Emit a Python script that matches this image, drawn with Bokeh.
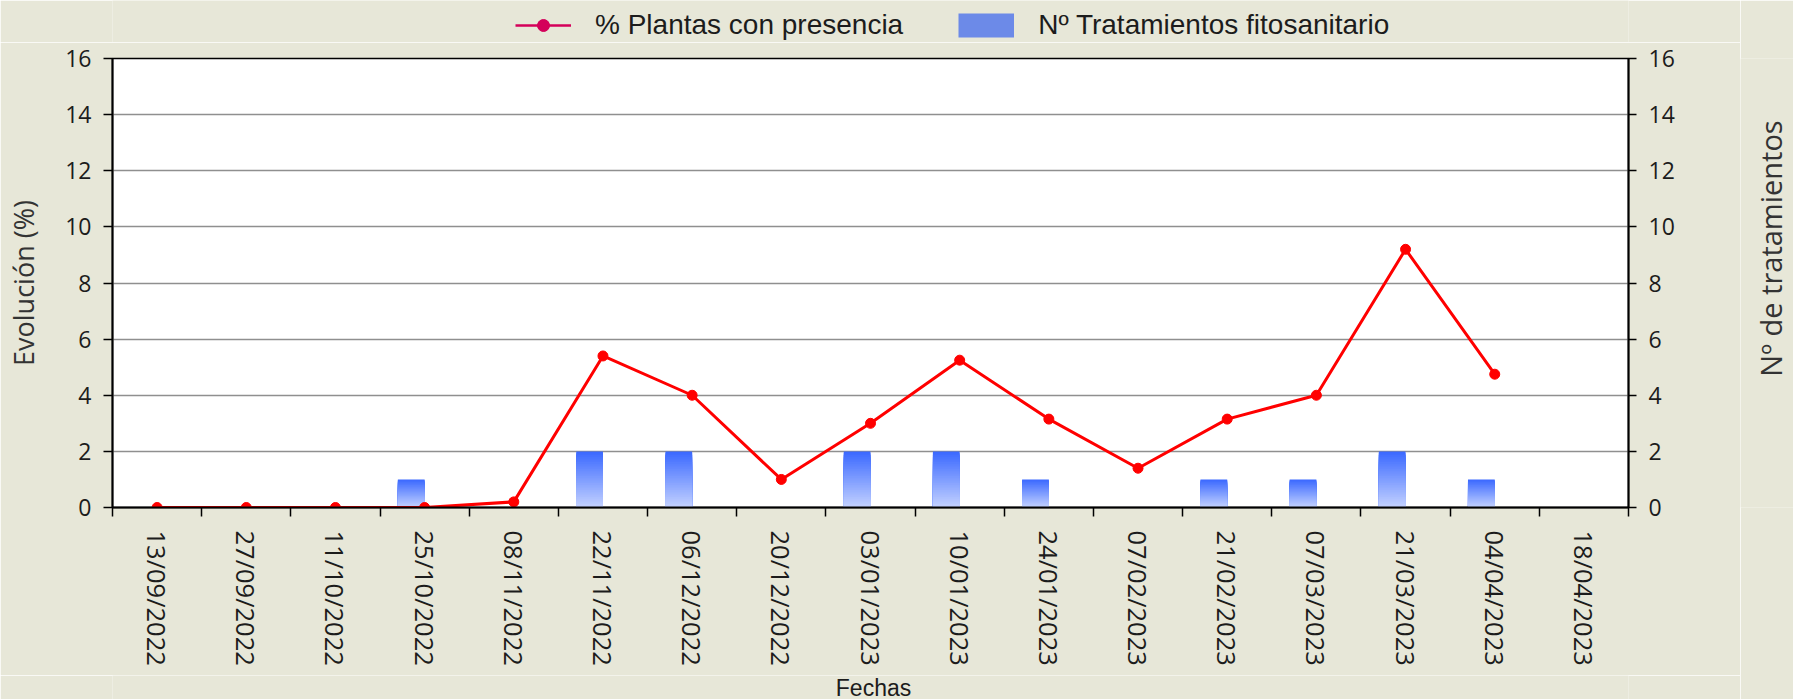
import math
from bokeh.plotting import figure
from bokeh.layouts import column, row
from bokeh.models import (Range1d, LinearAxis, FixedTicker, Legend, LegendItem, Label)
from bokeh.embed import file_html
from bokeh.resources import INLINE

# ---------------- data ----------------
fechas = ["13/09/2022", "27/09/2022", "11/10/2022", "25/10/2022", "08/11/2022",
          "22/11/2022", "06/12/2022", "20/12/2022", "03/01/2023", "10/01/2023",
          "24/01/2023", "07/02/2023", "21/02/2023", "07/03/2023", "21/03/2023",
          "04/04/2023", "18/04/2023"]
plantas_presencia = [0, 0, 0, 0, 0.2, 5.4, 4.0, 1.0, 3.0, 5.25, 3.15, 1.4,
                     3.15, 4.0, 9.2, 4.75, None]
tratamientos = [0, 0, 0, 1, 0, 2, 2, 0, 2, 2, 1, 0, 1, 1, 2, 1, 0]
y_ticks = [0, 2, 4, 6, 8, 10, 12, 14, 16]

serie_linea = "% Plantas con presencia"
serie_barras = "Nº Tratamientos fitosanitario"
titulo_y = "Evolución (%)"
titulo_y2 = "Nº de tratamientos"
titulo_x = "Fechas"

# ---------------- style ----------------
BG = "#e7e7d8"
TXT = "#1c1c1c"
TICK_FONT = "Open Sans"
W_MAIN = 1740
W_RIGHT = 53
H = 699
TOP_H = 42          # legend strip
BOT_H = 24          # x title strip
FRAME_TOP = 58
FRAME_BOTTOM = 507

n = len(fechas)
centers = [i + 0.5 for i in range(n)]


def blank(fig):
    fig.grid.visible = False
    fig.outline_line_color = None
    fig.background_fill_color = BG
    fig.border_fill_color = BG


# ---------- legend strip (top) ----------
lf = figure(width=W_MAIN, height=TOP_H, x_range=Range1d(0, 1), y_range=Range1d(0, 1),
            output_backend="svg", toolbar_location=None,
            x_axis_location=None, y_axis_location=None, min_border=0)
blank(lf)
# swatch-only renderers (their points lie outside the visible range)
leg_line = lf.line(x=[5, 6], y=[5, 5], line_color="#d4005a", line_width=2.5)
leg_dot = lf.scatter(x=[5], y=[5], size=15, fill_color="#d4005a", line_color="#d4005a")
leg_box = lf.line(x=[5, 6], y=[5, 5], line_color="#6c8ae8", line_width=24, line_cap="butt")
legend = Legend(items=[LegendItem(label=serie_linea, renderers=[leg_line, leg_dot]),
                       LegendItem(label=serie_barras, renderers=[leg_box])],
                location=(403, 1), orientation="horizontal",
                glyph_width=56, glyph_height=30, label_height=30,
                label_standoff=24, padding=0, margin=0, spacing=55,
                border_line_color=None, background_fill_alpha=0,
                label_text_font="Liberation Sans", label_text_font_size="28px",
                label_text_color=TXT)
lf.add_layout(legend)

# ---------- main chart ----------
p = figure(width=W_MAIN, height=H - TOP_H - BOT_H, x_range=Range1d(0, n),
           y_range=Range1d(0, 16), output_backend="svg", toolbar_location=None,
           min_border_left=112, min_border_right=W_MAIN - 1628,
           min_border_top=FRAME_TOP - TOP_H,
           min_border_bottom=H - BOT_H - FRAME_BOTTOM)
p.extra_y_ranges = {"trat": Range1d(0, 16)}
p.border_fill_color = BG
p.background_fill_color = "white"
p.outline_line_color = "black"
p.outline_line_width = 1.5

# gradient bars (stacked slices, drawn from tallest to shortest)
N = 32
top_rgb = (0x3a, 0x68, 0xff)
bot_rgb = (0xc4, 0xd2, 0xff)
bx, bb, bt, bc = [], [], [], []
for k in range(N - 1, -1, -1):
    t = (k + 0.5) / N
    r = round(bot_rgb[0] + (top_rgb[0] - bot_rgb[0]) * t)
    g = round(bot_rgb[1] + (top_rgb[1] - bot_rgb[1]) * t)
    b = round(bot_rgb[2] + (top_rgb[2] - bot_rgb[2]) * t)
    col = "#%02x%02x%02x" % (r, g, b)
    for i, v in enumerate(tratamientos):
        if v and v > 0:
            bx.append(centers[i] - 0.15)
            bb.append(0)
            bt.append(v * (k + 1) / N)
            bc.append(col)
p.vbar(x=bx, width=0.3, bottom=bb, top=bt, fill_color=bc, line_color=None,
       y_range_name="trat")

# line
lx = [centers[i] for i, v in enumerate(plantas_presencia) if v is not None]
ly = [v for v in plantas_presencia if v is not None]
p.line(lx, ly, line_color="#ff0000", line_width=3)
p.scatter(lx, ly, size=10, fill_color="#ff0000", line_color="#ff0000")

# x axis
xa = p.xaxis[0]
xa.ticker = FixedTicker(ticks=centers, minor_ticks=list(range(n + 1)))
xa.major_label_overrides = {c: f for c, f in zip(centers, fechas)}
xa.major_tick_out = 0
xa.major_tick_in = 0
xa.minor_tick_out = 9
xa.minor_tick_in = 0
xa.minor_tick_line_color = "black"
xa.minor_tick_line_width = 1.5
xa.axis_line_color = "black"
xa.axis_line_width = 2
xa.major_label_orientation = "vertical"
xa.major_label_standoff = 14
xa.major_label_text_font = TICK_FONT
xa.major_label_text_font_size = "25.5px"
xa.major_label_text_color = TXT

# left y axis
ya = p.yaxis[0]
ya.ticker = FixedTicker(ticks=y_ticks, minor_ticks=[])
ya.major_tick_out = 9
ya.major_tick_in = 0
ya.major_tick_line_width = 1.5
ya.axis_line_color = "black"
ya.axis_line_width = 2
ya.major_label_standoff = 12
ya.major_label_text_font = TICK_FONT
ya.major_label_text_font_size = "23px"
ya.major_label_text_color = TXT
ya.axis_label = titulo_y
ya.axis_label_standoff = 20
ya.axis_label_text_font = TICK_FONT
ya.axis_label_text_font_size = "27px"
ya.axis_label_text_font_style = "normal"
ya.axis_label_text_color = "#333333"

# right y axis
yr = LinearAxis(y_range_name="trat", ticker=FixedTicker(ticks=y_ticks, minor_ticks=[]))
yr.major_tick_out = 8
yr.major_tick_in = 0
yr.major_tick_line_width = 1.5
yr.axis_line_color = "black"
yr.axis_line_width = 2
yr.major_label_standoff = 12
yr.major_label_text_font = TICK_FONT
yr.major_label_text_font_size = "23px"
yr.major_label_text_color = TXT
p.add_layout(yr, "right")

# grid
p.xgrid.visible = False
p.ygrid.ticker = FixedTicker(ticks=y_ticks[1:-1], minor_ticks=[])
p.ygrid.grid_line_color = "#8f8f8f"
p.ygrid.grid_line_width = 1.5

# ---------- bottom strip with the x title ----------
bf = figure(width=W_MAIN, height=BOT_H, x_range=Range1d(0, 1), y_range=Range1d(0, 1),
            output_backend="svg", toolbar_location=None,
            x_axis_location=None, y_axis_location=None, min_border=0)
blank(bf)
bf.add_layout(Label(x=(1628 - 112) / 2 + 3, y=12, x_units="screen", y_units="screen",
                    text=titulo_x, text_align="center", text_baseline="middle",
                    text_font="Liberation Sans", text_font_size="23px",
                    text_color=TXT))

# ---------- right strip with the secondary axis title ----------
rf = figure(width=W_RIGHT, height=H, x_range=Range1d(0, 1), y_range=Range1d(0, 1),
            output_backend="svg", toolbar_location=None,
            x_axis_location=None, y_axis_location=None,
            min_border_left=0, min_border_right=0,
            min_border_top=FRAME_TOP, min_border_bottom=H - FRAME_BOTTOM)
blank(rf)
rf.add_layout(Label(x=30, y=FRAME_BOTTOM - 248, x_units="screen", y_units="screen",
                    text=titulo_y2, angle=math.pi / 2, text_align="center",
                    text_baseline="middle", text_font=TICK_FONT,
                    text_font_size="29px", text_color="#333333"))

layout = row(column(lf, p, bf, spacing=0), rf, spacing=0)
open("out.html", "w").write(file_html(layout, INLINE))
